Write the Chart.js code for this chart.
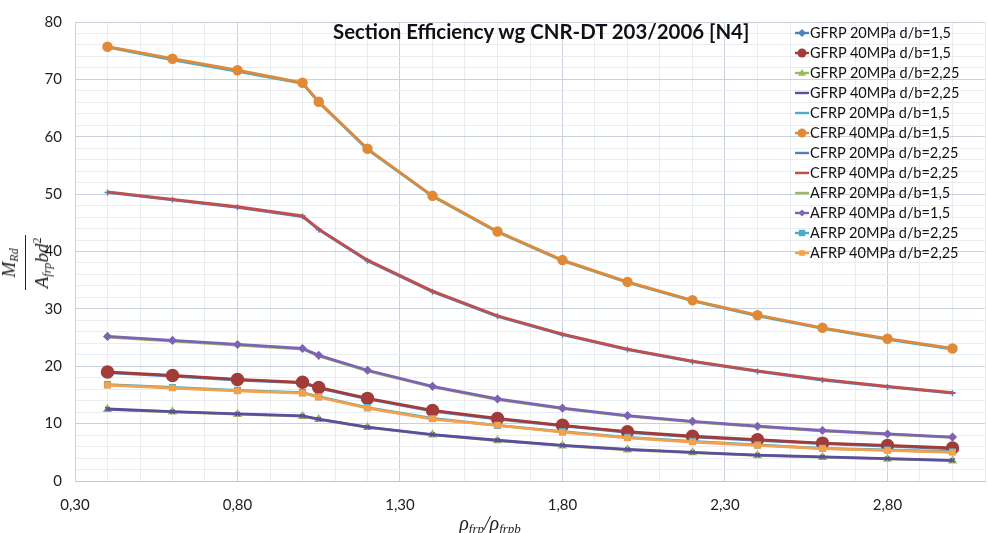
<!DOCTYPE html>
<html>
<head>
<meta charset="utf-8">
<script src="https://cdn.jsdelivr.net/npm/chart.js@4.4.1/dist/chart.umd.min.js"></script>
<style>
html, body { margin: 0; padding: 0; background: #fff; }
#wrap { position: relative; width: 988px; height: 533px; overflow: hidden; background: #fff; }
#effChart { position: absolute; left: 0; top: 0; }
#title { position: absolute; left: 333px; top: 20px; font: bold 20.4px Lato, sans-serif; color: #111; white-space: nowrap; line-height: 22px; }
#legend { position: absolute; left: 795px; top: 0; font: 14.5px Lato, sans-serif; color: #111; }
.item { position: absolute; left: 0; height: 18px; line-height: 18px; white-space: nowrap; }
.item canvas { position: absolute; left: 0; top: 3px; }
.item span { position: absolute; left: 15px; top: 0; }
#ytitle { position: absolute; left: 28px; top: 263px; width: 0; height: 0; }
#ytitle .frac { position: absolute; transform: translate(-50%, -50%) rotate(-90deg); font: italic 19px "Liberation Serif", serif; color: #222; text-align: center; white-space: nowrap; }
.frac .num { display: block; padding: 0 4px 1px; border-bottom: 1.3px solid #222; line-height: 20px; }
.frac .den { display: block; padding: 1px 2px 0; line-height: 20px; }
.frac sub { font-size: 12px; vertical-align: -3px; }
.frac sup { font-size: 12px; font-style: normal; vertical-align: 7px; }
#xtitle { position: absolute; left: 490px; top: 513px; transform: translateX(-50%); font: italic 20px "Liberation Serif", serif; color: #222; white-space: nowrap; line-height: 20px; }
#xtitle sub { font-size: 13px; vertical-align: -3px; }
</style>
</head>
<body>
<div id="wrap">
  <canvas id="effChart" width="1000" height="533"></canvas>
  <div id="title">Section Efficiency wg CNR-DT 203/2006 [N4]</div>
  <div id="legend"></div>
  <div id="ytitle"><div class="frac"><span class="num">M<sub>Rd</sub></span><span class="den">A<sub>frp</sub>bd<sup>2</sup></span></div></div>
  <div id="xtitle">ρ<sub>frp</sub>/ρ<sub>frpb</sub></div>
</div>
<script>
// reinforcement ratio rho_frp / rho_frpb
const xValues = [0.40, 0.60, 0.80, 1.00, 1.05, 1.20, 1.40, 1.60, 1.80, 2.00, 2.20, 2.40, 2.60, 2.80, 3.00];

const xTickValues = [0.30, 0.80, 1.30, 1.80, 2.30, 2.80];
const xTickLabels = ['0,30', '0,80', '1,30', '1,80', '2,30', '2,80'];
const yTickValues = [0, 10, 20, 30, 40, 50, 60, 70, 80];
const yTickLabels = ['0', '10', '20', '30', '40', '50', '60', '70', '80'];

const seriesLabels = [
    'GFRP 20MPa d/b=1,5', 'GFRP 40MPa d/b=1,5', 'GFRP 20MPa d/b=2,25', 'GFRP 40MPa d/b=2,25',
    'CFRP 20MPa d/b=1,5', 'CFRP 40MPa d/b=1,5', 'CFRP 20MPa d/b=2,25', 'CFRP 40MPa d/b=2,25',
    'AFRP 20MPa d/b=1,5', 'AFRP 40MPa d/b=1,5', 'AFRP 20MPa d/b=2,25', 'AFRP 40MPa d/b=2,25'
];

// M_Rd / (A_frp b d^2)
const gfrp20_15  = [18.9, 18.3, 17.6, 17.1, 16.2, 14.3, 12.2, 10.8, 9.6, 8.5, 7.7, 7.1, 6.5, 6.1, 5.6];
const gfrp40_15  = [19.0, 18.4, 17.7, 17.2, 16.3, 14.4, 12.3, 10.9, 9.7, 8.6, 7.8, 7.2, 6.6, 6.2, 5.75];
const gfrp20_225 = [12.5, 12.05, 11.65, 11.3, 10.75, 9.35, 8.05, 7.05, 6.15, 5.45, 4.95, 4.45, 4.15, 3.85, 3.55];
const gfrp40_225 = [12.55, 12.1, 11.7, 11.35, 10.8, 9.4, 8.1, 7.1, 6.2, 5.5, 5.0, 4.5, 4.2, 3.9, 3.6];
const cfrp20_15  = [75.6, 73.4, 71.4, 69.3, 66.0, 57.8, 49.6, 43.4, 38.4, 34.6, 31.4, 28.8, 26.6, 24.7, 23.0];
const cfrp40_15  = [75.7, 73.6, 71.6, 69.4, 66.1, 57.9, 49.7, 43.5, 38.5, 34.7, 31.5, 28.9, 26.7, 24.8, 23.1];
const cfrp20_225 = [50.3, 49.0, 47.7, 46.1, 43.8, 38.4, 33.0, 28.7, 25.5, 22.9, 20.8, 19.1, 17.6, 16.4, 15.3];
const cfrp40_225 = [50.4, 49.1, 47.8, 46.2, 43.9, 38.5, 33.1, 28.8, 25.6, 23.0, 20.9, 19.2, 17.7, 16.5, 15.4];
const afrp20_15  = [25.1, 24.4, 23.7, 23.0, 21.8, 19.2, 16.4, 14.2, 12.6, 11.3, 10.3, 9.5, 8.75, 8.15, 7.6];
const afrp40_15  = [25.2, 24.5, 23.8, 23.1, 21.9, 19.3, 16.5, 14.3, 12.7, 11.4, 10.4, 9.55, 8.8, 8.2, 7.65];
const afrp20_225 = [16.8, 16.3, 15.8, 15.4, 14.7, 12.8, 10.9, 9.7, 8.6, 7.6, 6.9, 6.3, 5.7, 5.4, 5.1];
const afrp40_225 = [16.7, 16.2, 15.7, 15.3, 14.6, 12.7, 10.8, 9.7, 8.5, 7.5, 6.8, 6.2, 5.65, 5.35, 5.0];

const seriesValues = [gfrp20_15, gfrp40_15, gfrp20_225, gfrp40_225, cfrp20_15, cfrp40_15,
                      cfrp20_225, cfrp40_225, afrp20_15, afrp40_15, afrp20_225, afrp40_225];

const lineColors = ['#4F81BD', '#A23C39', '#9BBB59', '#5B4E9E', '#4BACC6', '#E08A38',
                    '#4F81BD', '#C0504D', '#9BBB59', '#7E63B5', '#4BACC6', '#F5A04A'];
const markerStyles = ['rectRot', 'circle', 'triangle', 'crossRot', 'star', 'circle',
                      'cross', 'dash', 'line', 'rectRot', 'rect', 'rect'];
const markerSizes = [4, 6, 4, 3, 3, 4.5, 3, 3, 3, 3.5, 4, 3.5];


const myChart = document.getElementById('effChart').getContext('2d');

const datasets = seriesLabels.map(function(label, i){
    return {
        label: label,
        data: seriesValues[i].map((v, j) => ({x: xValues[j], y: v})),
        borderColor: lineColors[i],
        backgroundColor: lineColors[i],
        pointStyle: markerStyles[i],
        pointRadius: markerSizes[i],
        pointBorderWidth: 1.5,
        borderWidth: 2.8,
        showLine: true,
        fill: false,
        order: seriesLabels.length - i
    };
});

function stepTicks(from, to, step){
    let out = [];
    let n = Math.round((to - from) / step);
    for (let k = 0; k <= n; k++) {
        out.push({value: Math.round((from + k * step) * 1000) / 1000});
    }
    return out;
}

function findLabel(values, labels, v){
    for (let k = 0; k < values.length; k++) {
        if (Math.abs(values[k] - v) < 1e-6) return labels[k];
    }
    return '';
}

new Chart(myChart, {
    type: 'scatter',
    data: { datasets: datasets },
    options: {
        responsive: false,
        animation: false,
        layout: { padding: { top: 18, right: 9, left: 0, bottom: 0 } },
        plugins: {
            legend: { display: false },
            tooltip: { enabled: false }
        },
        scales: {
            x: {
                type: 'linear',
                min: 0.3,
                max: 3.1,
                afterBuildTicks: (scale) => { scale.ticks = stepTicks(0.3, 3.1, 0.1); },
                afterFit: (scale) => { scale.height = 52; },
                ticks: {
                    autoSkip: false,
                    maxRotation: 0,
                    padding: 15,
                    color: '#1e1e1e',
                    font: { family: 'Lato', size: 15 },
                    callback: (v) => findLabel(xTickValues, xTickLabels, v)
                },
                grid: {
                    drawTicks: false,
                    color: (c) => findLabel(xTickValues, xTickLabels, c.tick.value) ? '#C9D1DD' : '#E9EDF2'
                },
                border: { color: '#BFC7D3' }
            },
            y: {
                min: 0,
                max: 80,
                afterBuildTicks: (scale) => { scale.ticks = stepTicks(0, 80, 2); },
                afterFit: (scale) => { scale.width = 75; },
                ticks: {
                    autoSkip: false,
                    padding: 13,
                    color: '#1e1e1e',
                    font: { family: 'Lato', size: 15 },
                    callback: (v) => findLabel(yTickValues, yTickLabels, v)
                },
                grid: {
                    drawTicks: false,
                    color: (c) => findLabel(yTickValues, yTickLabels, c.tick.value) ? '#C9D1DD' : '#E9EDF2'
                },
                border: { color: '#C9D1DD' }
            }
        }
    }
});

// legend drawn as html, markers on small canvases
function drawMarker(c, style, color, r){
    let g = c.getContext('2d');
    let cx = c.width / 2, cy = c.height / 2;
    g.strokeStyle = color;
    g.fillStyle = color;
    g.lineWidth = 2.4;
    g.beginPath(); g.moveTo(0, cy); g.lineTo(c.width, cy); g.stroke();
    g.lineWidth = 1.5;
    g.beginPath();
    if (style === 'circle') {
        g.arc(cx, cy, r, 0, Math.PI * 2); g.fill();
    } else if (style === 'rectRot') {
        g.moveTo(cx, cy - r); g.lineTo(cx + r, cy); g.lineTo(cx, cy + r); g.lineTo(cx - r, cy); g.closePath(); g.fill();
    } else if (style === 'rect') {
        g.rect(cx - r * 0.8, cy - r * 0.8, r * 1.6, r * 1.6); g.fill();
    } else if (style === 'triangle') {
        g.moveTo(cx, cy - r); g.lineTo(cx + r, cy + r * 0.7); g.lineTo(cx - r, cy + r * 0.7); g.closePath(); g.fill();
    }
}

const legendBox = document.getElementById('legend');
seriesLabels.forEach(function(label, i){
    let item = document.createElement('div');
    item.className = 'item';
    item.style.top = (24 + i * 20) + 'px';
    let c = document.createElement('canvas');
    c.width = 14; c.height = 12;
    item.appendChild(c);
    let s = document.createElement('span');
    s.textContent = label;
    item.appendChild(s);
    legendBox.appendChild(item);
    drawMarker(c, markerStyles[i], lineColors[i], Math.min(markerSizes[i], 4.5));
});
</script>
</body>
</html>
